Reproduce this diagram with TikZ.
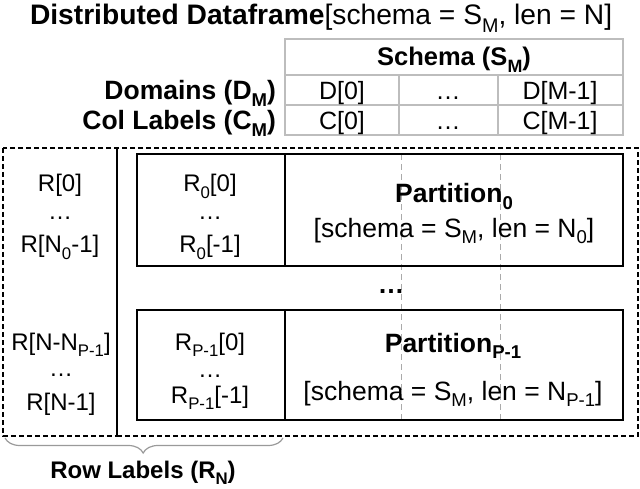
\documentclass[tikz,border=0pt]{standalone}
\usepackage{fontspec}
\usepackage{graphicx}
\setmainfont{Liberation Sans}
\usetikzlibrary{decorations.pathreplacing}
\definecolor{tablegray}{HTML}{BDBDBD}
\definecolor{guidegray}{HTML}{AAAAAA}
\definecolor{bracegray}{HTML}{9A9A9A}
\newcommand\lo[1]{\raisebox{-0.26em}{\scalebox{0.7}{#1}}}
\begin{document}
\begin{tikzpicture}[x=1pt,y=-1pt,
  every node/.style={inner sep=0pt, outer sep=0pt, anchor=base, font=\fontsize{24}{28}\selectfont},
  bf/.style={font=\fontsize{24}{28}\selectfont\bfseries},
  big/.style={font=\fontsize{26.5}{30}\selectfont},
  bigbf/.style={font=\fontsize{26.5}{30}\selectfont\bfseries},
  cell/.style={font=\fontsize{25}{28}\selectfont},
  tbl/.style={draw=tablegray, line width=1.3pt},
  box/.style={draw=black, line width=1.3pt},
  dbox/.style={draw=black, line width=1.1pt, dash pattern=on 5pt off 3pt},
  guide/.style={draw=guidegray, line width=0.9pt, dash pattern=on 6pt off 4pt},
]
\useasboundingbox (0,0) rectangle (640,489);
% title
\node[anchor=base west] (title) at (30,25) {\fontsize{28.2}{30}\selectfont\textbf{Distributed Dataframe}[schema = S\lo{M}, len = N]};
% schema table
\draw[tbl] (285,39) rectangle (623,135);
\draw[tbl] (285,75) -- (623,75) (285,105) -- (623,105) (399,75) -- (399,135) (498,75) -- (498,135);
\node[bf, font=\fontsize{25.5}{28}\selectfont\bfseries] (schema) at (454,66) {Schema (S\lo{M})};
\node[cell] (d0) at (342,100) {D[0]};
\node[cell] (dd) at (448,100) {…};
\node[cell] (dm) at (560,100) {D[M-1]};
\node[cell] (c0) at (342,130) {C[0]};
\node[cell] (cd) at (448,130) {…};
\node[cell] (cm) at (560,130) {C[M-1]};
\node[bigbf, anchor=base east] (dom) at (276,100) {Domains (D\lo{M})};
\node[bigbf, anchor=base east] (col) at (276,130) {Col Labels (C\lo{M})};
% dashed frames
\draw[dbox] (3,148) rectangle (117,436);
\draw[dbox] (117,148) rectangle (638,436);
% guides
\draw[guide] (401,154) -- (401,420);
\draw[guide] (500,154) -- (500,420);
% partitions
\draw[box] (137,154) rectangle (623,266);
\draw[box] (285,154) -- (285,266);
\draw[box] (137,310) rectangle (623,420);
\draw[box] (285,310) -- (285,420);
% partition 0
\node (r0) at (60,192) {R[0]};
\node (rd0) at (60,220) {…};
\node (rn0) at (60,253) {R[N\lo{0}-1]};
\node (pa0) at (210,192) {R\lo{0}[0]};
\node (pd0) at (210,220) {…};
\node (pb0) at (210,253) {R\lo{0}[-1]};
\node[bigbf] (pt0) at (454,203) {Partition\lo{0}};
\node[big] (ps0) at (454,237) {[schema = S\lo{M}, len = N\lo{0}]};
% middle dots
\node[bigbf] (mid) at (391,293) {…};
% partition P-1
\node (r1) at (61,350) {R[N-N\lo{P-1}]};
\node (rd1) at (61,376) {…};
\node (rn1) at (61,410) {R[N-1]};
\node (pa1) at (210,350) {R\lo{P-1}[0]};
\node (pd1) at (210,377) {…};
\node (pb1) at (210,403) {R\lo{P-1}[-1]};
\node[bigbf] (pt1) at (453,352) {Partition\lo{P-1}};
\node[big] (ps1) at (453,400) {[schema = S\lo{M}, len = N\lo{P-1}]};
% brace
\coordinate (bl) at (5,438);
\coordinate (br) at (283,438);
\draw[draw=bracegray, line width=1.2pt, decorate, decoration={brace, amplitude=15pt, aspect=0.497, mirror}] (bl) -- (br);
\node[bf] (rl) at (143,478) {Row Labels (R\lo{N})};
\end{tikzpicture}
\end{document}
